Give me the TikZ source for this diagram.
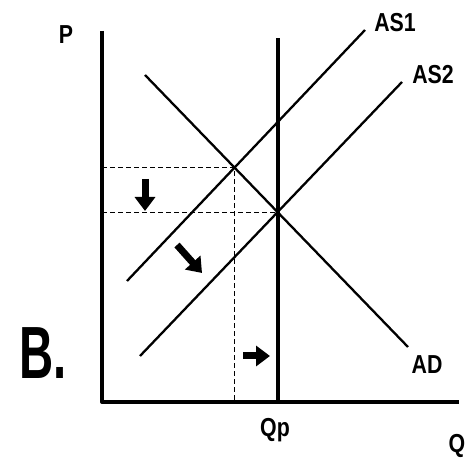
\documentclass[tikz,border=0pt]{standalone}
\usepackage{fontspec}
\setmainfont{Liberation Sans}
\usetikzlibrary{arrows.meta}

\begin{document}
\begin{tikzpicture}[x=1pt,y=1pt,
  axis/.style={line width=4pt,line join=round},
  curve/.style={line width=2.3pt},
  guide/.style={dashed,line width=1.2pt,dash pattern=on 5pt off 3pt},
  movearrow/.style={line width=7pt,-{Triangle[width=20pt,length=14pt]}},
  lbl/.style={font=\bfseries\fontsize{26}{26}\selectfont,xscale=0.82,inner sep=0pt}]
\useasboundingbox (0,0) rectangle (474,465);
% axes
\coordinate (O) at (102,63);
\coordinate (ytop) at (102,434);
\coordinate (xend) at (459,63);
\draw[axis] (ytop) -- (O) -- (xend);
% curve end points
\coordinate (as1a) at (127,184); \coordinate (as1b) at (365,435);
\coordinate (as2a) at (140,109); \coordinate (as2b) at (402,383);
\coordinate (ada) at (145,390);  \coordinate (adb) at (408,118);
\coordinate (E1) at (intersection of as1a--as1b and ada--adb);
\coordinate (E2) at (intersection of as2a--as2b and ada--adb);
\draw[curve] (as1a) -- (as1b);
\draw[curve] (as2a) -- (as2b);
\draw[curve] (ada) -- (adb);
% potential output
\draw[axis] (E2 |- O) -- (E2 |- 0,427);
% guides
\draw[guide] (O |- E1) -- (E1) -- (E1 |- O);
\draw[guide] (O |- E2) -- (E2);
% moves
\coordinate (d1) at (145,286); \coordinate (d2) at (145,254);
\coordinate (s1) at (177,220); \coordinate (s2) at (202,192);
\coordinate (r1) at (243,109); \coordinate (r2) at (270,109);
\draw[movearrow] (d1) -- (d2);
\draw[movearrow] (s1) -- (s2);
\draw[movearrow] (r1) -- (r2);
% labels
\node[lbl] (P) at (66,430) {P};
\node[lbl] (Q) at (457,19) {Q};
\node[lbl] (Qp) at (275,35) {Qp};
\node[lbl] (AS1) at (395,442) {AS1};
\node[lbl] (AS2) at (433,390) {AS2};
\node[lbl] (AD) at (427,100) {AD};
\node[lbl,font=\bfseries\fontsize{74}{74}\selectfont,xscale=0.78] (B) at (43,112) {B.};
\end{tikzpicture}
\end{document}
